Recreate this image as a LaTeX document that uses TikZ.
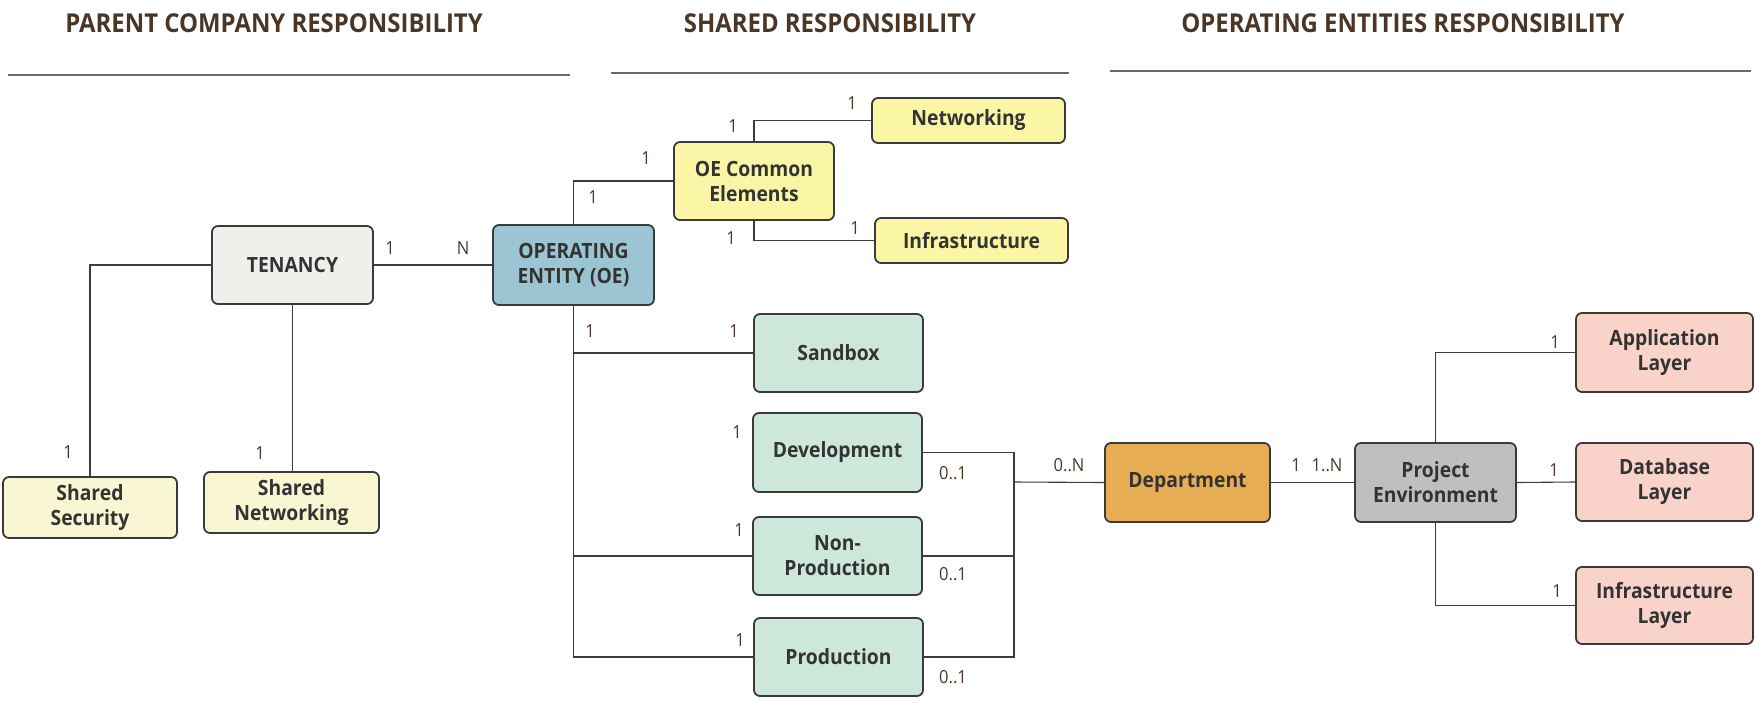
\documentclass[tikz,border=0pt]{standalone}
\usepackage{fontspec}
\setmainfont{Open Sans}[FakeStretch=0.92]
\definecolor{hdr}{HTML}{4B3626}
\definecolor{boxline}{HTML}{3A3A3A}
\definecolor{boxtext}{HTML}{333333}
\definecolor{conn}{HTML}{3C3C3C}
\definecolor{rule}{HTML}{6E6862}
\definecolor{cTen}{HTML}{F0EFEB}
\definecolor{cOE}{HTML}{9CC5D4}
\definecolor{cPale}{HTML}{F9F6D3}
\definecolor{cYel}{HTML}{FAF6A6}
\definecolor{cMint}{HTML}{CDE8DA}
\definecolor{cDept}{HTML}{E6AD55}
\definecolor{cPE}{HTML}{BFBFBF}
\definecolor{cPink}{HTML}{F9D3CA}
\tikzset{
  box/.style={draw=boxline, line width=1.8pt, rounded corners=6pt, align=center,
    font=\fontsize{21}{25}\selectfont\bfseries, text=boxtext, inner sep=0pt},
  lbl/.style={font=\fontsize{18}{20}\selectfont, text=hdr, inner sep=0pt},
  hdrtext/.style={font=\fontsize{26}{30}\selectfont\bfseries, text=hdr, inner sep=0pt},
  conn/.style={draw=conn, line width=1.1pt},
  rulestyle/.style={draw=rule, line width=2pt},
}
\newcommand{\bx}[6]{\node[box, fill=#2, minimum width=#5pt, minimum height=#6pt] (#1) at (#3,#4) {#2text};}
\begin{document}
\begin{tikzpicture}[x=1pt,y=-1pt]
\useasboundingbox (0,0) rectangle (1758,702);
% headers
\node[hdrtext] (h1) at (274,23) {PARENT COMPANY RESPONSIBILITY};
\node[hdrtext] (h2) at (830,23) {SHARED RESPONSIBILITY};
\node[hdrtext] (h3) at (1403,23) {OPERATING ENTITIES RESPONSIBILITY};
\coordinate (r1a) at (8,75); \coordinate (r1b) at (570,75);
\coordinate (r2a) at (611,73); \coordinate (r2b) at (1069,73);
\coordinate (r3a) at (1110,71); \coordinate (r3b) at (1751,71);
\draw[rulestyle] (r1a) -- (r1b);
\draw[rulestyle] (r2a) -- (r2b);
\draw[rulestyle] (r3a) -- (r3b);
% boxes
\node[box, fill=cTen, minimum width=161pt, minimum height=78pt] (ten) at (292.5,265) {TENANCY};
\node[box, fill=cOE, minimum width=161pt, minimum height=80pt] (oe) at (573.5,265) {OPERATING\\ENTITY (OE)};
\node[box, fill=cPale, minimum width=174pt, minimum height=61pt] (secu) at (90,507.5) {Shared\\Security};
\node[box, fill=cPale, minimum width=175pt, minimum height=61pt] (snet) at (291.5,502.5) {Shared\\Networking};
\node[box, fill=cYel, minimum width=160pt, minimum height=78pt] (oec) at (754,181) {OE Common\\Elements};
\node[box, fill=cYel, minimum width=193pt, minimum height=45pt] (net) at (968.5,120.5) {Networking};
\node[box, fill=cYel, minimum width=193pt, minimum height=45pt] (inf) at (971.5,240.5) {Infrastructure};
\node[box, fill=cMint, minimum width=169pt, minimum height=78pt] (sand) at (838.5,353) {Sandbox};
\node[box, fill=cMint, minimum width=169pt, minimum height=79pt] (dev) at (837.5,452.5) {Development};
\node[box, fill=cMint, minimum width=169pt, minimum height=78pt] (nonp) at (837.5,556) {Non-\\Production};
\node[box, fill=cMint, minimum width=169pt, minimum height=78pt] (prod) at (838.5,657) {Production};
\node[box, fill=cDept, minimum width=165pt, minimum height=79pt] (dept) at (1187.5,482.5) {Department};
\node[box, fill=cPE, minimum width=161pt, minimum height=79pt] (pe) at (1435.5,482.5) {Project\\Environment};
\node[box, fill=cPink, minimum width=177pt, minimum height=79pt] (app) at (1664.5,352.5) {Application\\Layer};
\node[box, fill=cPink, minimum width=177pt, minimum height=78pt] (db) at (1664.5,482) {Database\\Layer};
\node[box, fill=cPink, minimum width=177pt, minimum height=77pt] (il) at (1664.5,605.5) {Infrastructure\\Layer};
% connectors
\begin{scope}[on background layer/.style={}]
\end{scope}
\draw[conn] (ten.west) -| (secu.north);
\draw[conn] (ten.south) -- (ten.south |- snet.north);
\draw[conn] (ten.east) -- (oe.west);
\draw[conn] (oe.north) |- (oec.west);
\draw[conn] (oec.north) |- (net.west);
\draw[conn] (oec.south) |- (inf.west);
\draw[conn] (oe.south) -- (oe.south |- prod.west) -- (prod.west);
\draw[conn] (oe.south |- sand.west) -- (sand.west);
\draw[conn] (oe.south |- nonp.west) -- (nonp.west);
\coordinate (j) at (1014,482);
\draw[conn] (dev.east) -| (j);
\draw[conn] (prod.east) -| (j);
\draw[conn] (nonp.east) -- (nonp.east -| j);
\draw[conn] (j) -- (dept.west);
\draw[conn] (dept.east) -- (pe.west);
\draw[conn] (pe.north) |- (app.west);
\draw[conn] (pe.east) -- (db.west);
\draw[conn] (pe.south) |- (il.west);
% labels
\node[lbl] (l1) at (390,248) {1};
\node[lbl] (l2) at (463,248) {N};
\node[lbl] (l3) at (68,452) {1};
\node[lbl] (l4) at (260,453) {1};
\node[lbl] (l5) at (646,158) {1};
\node[lbl] (l6) at (593,197) {1};
\node[lbl] (l7) at (733,126) {1};
\node[lbl] (l8) at (852,103) {1};
\node[lbl] (l9) at (731,238) {1};
\node[lbl] (l10) at (855,228) {1};
\node[lbl] (l11) at (590,331) {1};
\node[lbl] (l12) at (734,331) {1};
\node[lbl] (l13) at (737,432) {1};
\node[lbl] (l14) at (953,473) {0..1};
\node[lbl] (l15) at (739,530) {1};
\node[lbl] (l16) at (953,574) {0..1};
\node[lbl] (l17) at (740,640) {1};
\node[lbl] (l18) at (953,677) {0..1};
\node[lbl] (l19) at (1069,465) {0..N};
\node[lbl] (l20) at (1296,465) {1};
\node[lbl] (l21) at (1327,465) {1..N};
\node[lbl] (l22) at (1555,342) {1};
\node[lbl] (l23) at (1554,470) {1};
\node[lbl] (l24) at (1557,591) {1};
\end{tikzpicture}
\end{document}
